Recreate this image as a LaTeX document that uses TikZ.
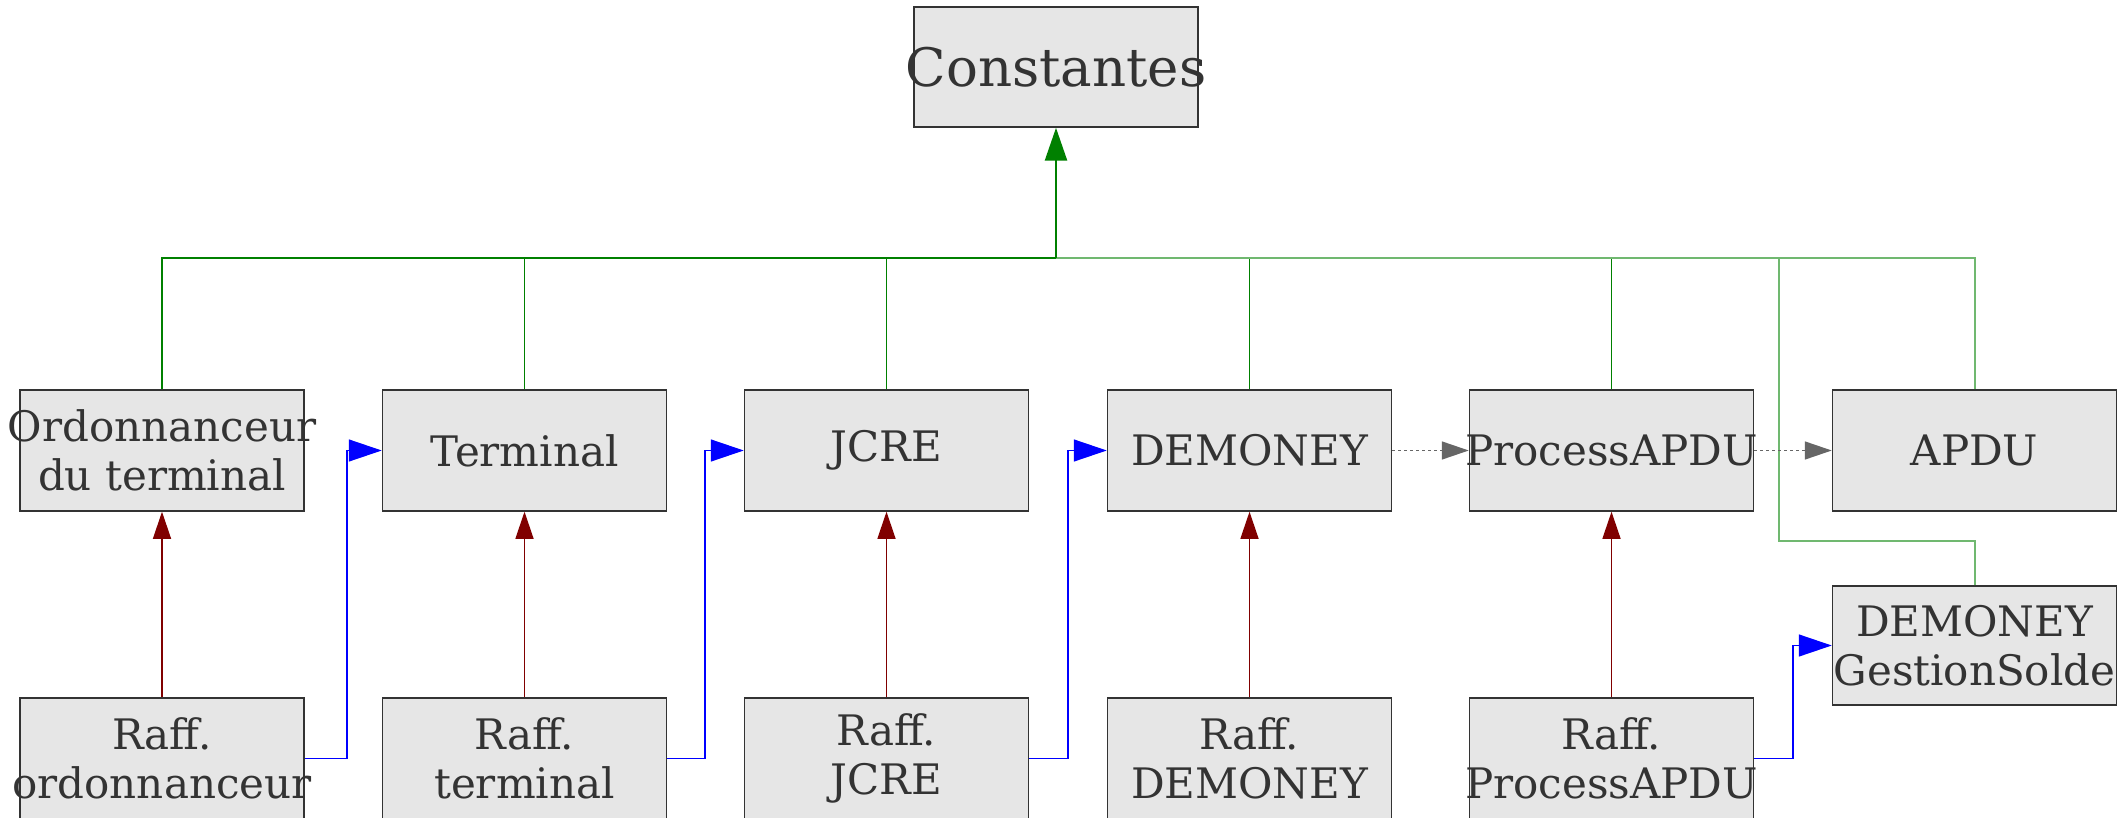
\documentclass[tikz,border=0pt]{standalone}
\usepackage{fontspec}
\setmainfont{DejaVu Serif}
\usetikzlibrary{arrows.meta}
\definecolor{boxfill}{HTML}{E6E6E6}
\definecolor{boxline}{HTML}{333333}
\definecolor{txt}{HTML}{333333}
\definecolor{inherit}{HTML}{008000}
\definecolor{inheritlight}{HTML}{70B870}
\definecolor{refine}{HTML}{800000}
\definecolor{uses}{HTML}{0000FF}
\definecolor{dep}{HTML}{666666}
% a centred line that may run past the edges of its box
\newcommand{\boxline}[1]{\makebox[0pt]{#1}}
\tikzset{
  classbox/.style={draw=boxline, fill=boxfill, line width=1.5pt,
    minimum width=284pt, minimum height=121pt, inner sep=0pt,
    align=center, text=txt, font=\fontsize{42}{49}\selectfont},
  inh/.style={draw=inherit, line width=1.6pt},
  inhlight/.style={draw=inheritlight, line width=2pt},
  refarrow/.style={draw=refine, line width=1.3pt,
    -{Triangle[length=27pt,width=18pt,fill=refine]}},
  usearrow/.style={draw=uses, line width=1.4pt,
    -{Triangle[length=33pt,width=22pt,fill=uses]}},
  deparrow/.style={draw=dep, line width=1.5pt, dash pattern=on 3pt off 3pt,
    -{Triangle[length=27pt,width=18pt,fill=dep]}}
}
\begin{document}
\begin{tikzpicture}[x=1pt,y=-1pt]
\useasboundingbox (0,0) rectangle (2118,818);
\fill[white] (0,0) rectangle (2118,818);

% classes
\node[classbox, minimum height=120pt, font=\fontsize{53}{60}\selectfont] (const) at (1056,67) {\boxline{Constantes}};

\node[classbox] (ord)   at (162,450.5)    {\boxline{Ordonnanceur}\\\boxline{du terminal}};
\node[classbox] (term)  at (524.5,450.5)  {\boxline{Terminal}};
\node[classbox] (jcre)  at (886.5,450.5)  {\boxline{JCRE}};
\node[classbox] (demo)  at (1249.5,450.5) {\boxline{DEMONEY}};
\node[classbox] (papdu) at (1611.5,450.5) {\boxline{ProcessAPDU}};
\node[classbox] (apdu)  at (1974.5,450.5) {\boxline{APDU}};

\node[classbox, minimum height=119pt] (gs) at (1974.5,645.5) {\boxline{DEMONEY}\\\boxline{GestionSolde}};

\node[classbox] (rord)   at (162,758.5)    {\boxline{Raff.}\\\boxline{ordonnanceur}};
\node[classbox] (rterm)  at (524.5,758.5)  {\boxline{Raff.}\\\boxline{terminal}};
\node[classbox] (rjcre)  at (886.5,758.5)  {\boxline{Raff.}\\\boxline{JCRE}};
\node[classbox] (rdemo)  at (1249.5,758.5) {\boxline{Raff.}\\\boxline{DEMONEY}};
\node[classbox] (rpapdu) at (1611.5,758.5) {\boxline{Raff.}\\\boxline{ProcessAPDU}};

% routing points
\coordinate (hub) at (1056,258);
\coordinate (gsbend) at (1779,541);
\coordinate (uA) at (347,450.5);
\coordinate (uB) at (705,450.5);
\coordinate (uC) at (1068,450.5);
\coordinate (uD) at (1793,645.5);

% inheritance tree towards Constantes
\foreach \n in {ord,term,jcre,demo,papdu}
  \draw[inh] (\n.north) |- (hub);
\draw[inhlight] (apdu.north) |- (hub);
\draw[inhlight] (gs.north) |- (gsbend) |- (hub);
\draw[draw=inherit, line width=2.6pt,
  -{Triangle[length=33pt,width=22pt,fill=inherit]}] (hub) -- (const.south);

% refinements
\draw[refarrow] (rord.north) -- (ord.south);
\draw[refarrow] (rterm.north) -- (term.south);
\draw[refarrow] (rjcre.north) -- (jcre.south);
\draw[refarrow] (rdemo.north) -- (demo.south);
\draw[refarrow] (rpapdu.north) -- (papdu.south);

% uses links
\draw[usearrow] (rord.east) -| (uA) -- (term.west);
\draw[usearrow] (rterm.east) -| (uB) -- (jcre.west);
\draw[usearrow] (rjcre.east) -| (uC) -- (demo.west);
\draw[usearrow] (rpapdu.east) -| (uD) -- (gs.west);

% dependencies
\draw[deparrow] (demo.east) -- (papdu.west);
\draw[deparrow] (papdu.east) -- (apdu.west);
\end{tikzpicture}
\end{document}
